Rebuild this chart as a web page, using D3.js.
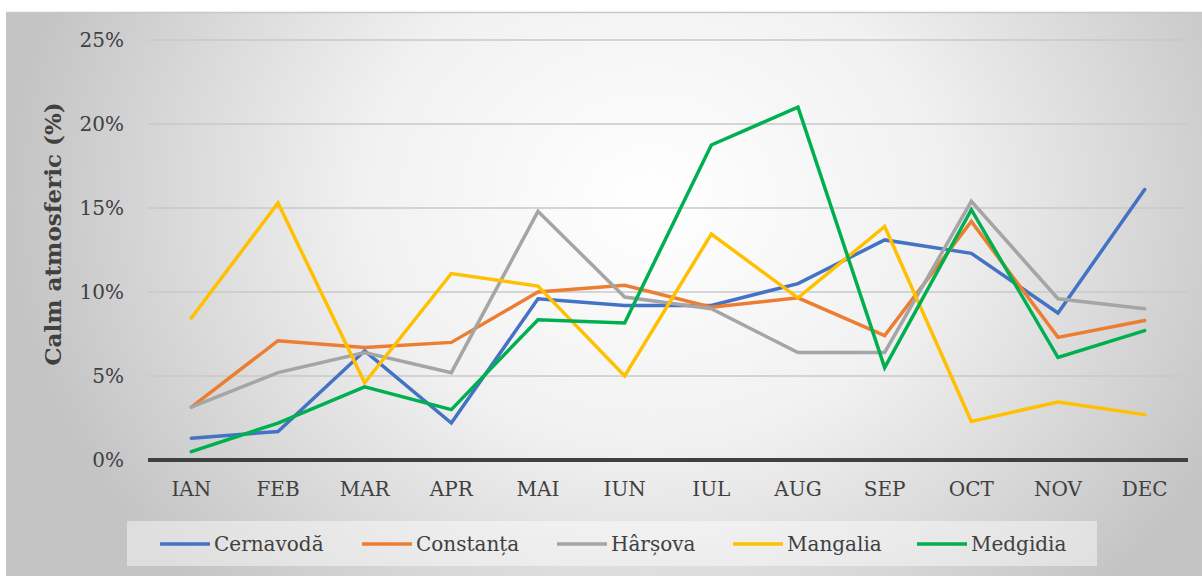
<!DOCTYPE html>
<html>
<head>
<meta charset="utf-8">
<script src="https://cdn.jsdelivr.net/npm/d3@7"></script>
<style>
  html, body { margin: 0; padding: 0; background: #fff; }
  svg { display: block; }
</style>
</head>
<body>
<svg id="chart" width="1202" height="576"></svg>
<script>
// Monthly share of calm atmospheric conditions (%) by station
const months = ["IAN", "FEB", "MAR", "APR", "MAI", "IUN", "IUL", "AUG", "SEP", "OCT", "NOV", "DEC"];
const stations = ["Cernavodă", "Constanța", "Hârșova", "Mangalia", "Medgidia"];
const colors = ["#4472C4", "#ED7D31", "#A5A5A5", "#FFC000", "#00B050"];

const cernavoda = [1.3, 1.7, 6.5, 2.2, 9.6, 9.2, 9.2, 10.5, 13.1, 12.3, 8.75, 16.1];
const constanta = [3.15, 7.1, 6.7, 7.0, 10.0, 10.4, 9.1, 9.65, 7.4, 14.2, 7.3, 8.3];
const harsova   = [3.15, 5.2, 6.4, 5.2, 14.8, 9.7, 9.0, 6.4, 6.4, 15.4, 9.6, 9.0];
const mangalia  = [8.45, 15.3, 4.6, 11.1, 10.35, 5.0, 13.45, 9.65, 13.9, 2.3, 3.45, 2.7];
const medgidia  = [0.5, 2.2, 4.35, 3.0, 8.35, 8.15, 18.75, 21.0, 5.5, 14.9, 6.1, 7.7];

const seriesValues = [cernavoda, constanta, harsova, mangalia, medgidia];
const yTicks = [0, 5, 10, 15, 20, 25];

const svg = d3.select("#chart");
const W = 1202, H = 576;
const serif = "'DejaVu Serif', serif";

// Panel background: soft radial gradient, light centre fading to grey edges
const defs = svg.append("defs");
const grad = defs.append("radialGradient")
  .attr("id", "bg")
  .attr("gradientUnits", "userSpaceOnUse")
  .attr("cx", 650).attr("cy", 200).attr("r", 640)
  .attr("gradientTransform", "translate(650,200) scale(1,0.85) translate(-650,-200)");
grad.append("stop").attr("offset", "0%").attr("stop-color", "#ffffff");
grad.append("stop").attr("offset", "45%").attr("stop-color", "#f1f1f1");
grad.append("stop").attr("offset", "100%").attr("stop-color", "#c4c4c4");

svg.append("rect")
  .attr("x", 6).attr("y", 12).attr("width", W - 6).attr("height", H - 12)
  .attr("fill", "url(#bg)");
svg.append("line")
  .attr("x1", 6).attr("x2", W).attr("y1", 12.5).attr("y2", 12.5)
  .attr("stroke", "#c8c8c8").attr("stroke-width", 1.5);

const margin = { left: 148, right: 14, top: 40, bottom: 116 };
const x = d3.scaleBand().domain(months).range([margin.left, W - margin.right]);
const y = d3.scaleLinear().domain([0, 25]).range([H - margin.bottom, margin.top]);

// Horizontal gridlines
svg.append("g")
  .selectAll("line")
  .data(yTicks.filter(t => t > 0))
  .join("line")
  .attr("x1", margin.left).attr("x2", W - margin.right)
  .attr("y1", d => y(d)).attr("y2", d => y(d))
  .attr("stroke", "#c9c9c9").attr("stroke-width", 1.5);

// Y axis tick labels
const yAxis = d3.axisLeft(y).tickValues(yTicks).tickFormat(d => d + "%").tickSize(0).tickPadding(24);
const gy = svg.append("g").attr("transform", `translate(${margin.left},0)`).call(yAxis);
gy.select(".domain").remove();
gy.selectAll("text")
  .attr("font-family", serif).attr("font-size", 20).attr("fill", "#404040");

// X axis labels
const xAxis = d3.axisBottom(x).tickSize(0).tickPadding(22);
const gx = svg.append("g").attr("transform", `translate(0,${y(0)})`).call(xAxis);
gx.select(".domain").remove();
gx.selectAll("text")
  .attr("font-family", serif).attr("font-size", 20).attr("fill", "#404040");

// Baseline at 0%
svg.append("line")
  .attr("x1", margin.left).attr("x2", W - margin.right)
  .attr("y1", y(0)).attr("y2", y(0))
  .attr("stroke", "#404040").attr("stroke-width", 4);

// Y axis title
svg.append("text")
  .attr("transform", `translate(61,${(y(0) + y(25)) / 2 - 16}) rotate(-90)`)
  .attr("text-anchor", "middle")
  .attr("font-family", serif).attr("font-weight", "bold").attr("font-size", 23)
  .attr("fill", "#404040")
  .text("Calm atmosferic (%)");

// Station lines
const line = d3.line()
  .x((d, i) => x(months[i]) + x.bandwidth() / 2)
  .y(d => y(d));

svg.append("g")
  .selectAll("path")
  .data(seriesValues)
  .join("path")
  .attr("d", d => line(d))
  .attr("fill", "none")
  .attr("stroke", (d, i) => colors[i])
  .attr("stroke-width", 3.5)
  .attr("stroke-linejoin", "miter")
  .attr("stroke-linecap", "round");

// Legend
const legendItems = [
  { x: 160 }, { x: 362 }, { x: 557 }, { x: 733 }, { x: 917 }
];
svg.append("rect")
  .attr("x", 127).attr("y", 521).attr("width", 970).attr("height", 45)
  .attr("fill", "#ffffff").attr("fill-opacity", 0.45);

const lg = svg.append("g")
  .selectAll("g")
  .data(stations)
  .join("g")
  .attr("transform", (d, i) => `translate(${legendItems[i].x},544)`);
lg.append("line")
  .attr("x1", 0).attr("x2", 50).attr("y1", 0).attr("y2", 0)
  .attr("stroke", (d, i) => colors[i]).attr("stroke-width", 3.5);
lg.append("text")
  .attr("x", 54).attr("y", 7)
  .attr("font-family", serif).attr("font-size", 20).attr("fill", "#404040")
  .text(d => d);
</script>
</body>
</html>
